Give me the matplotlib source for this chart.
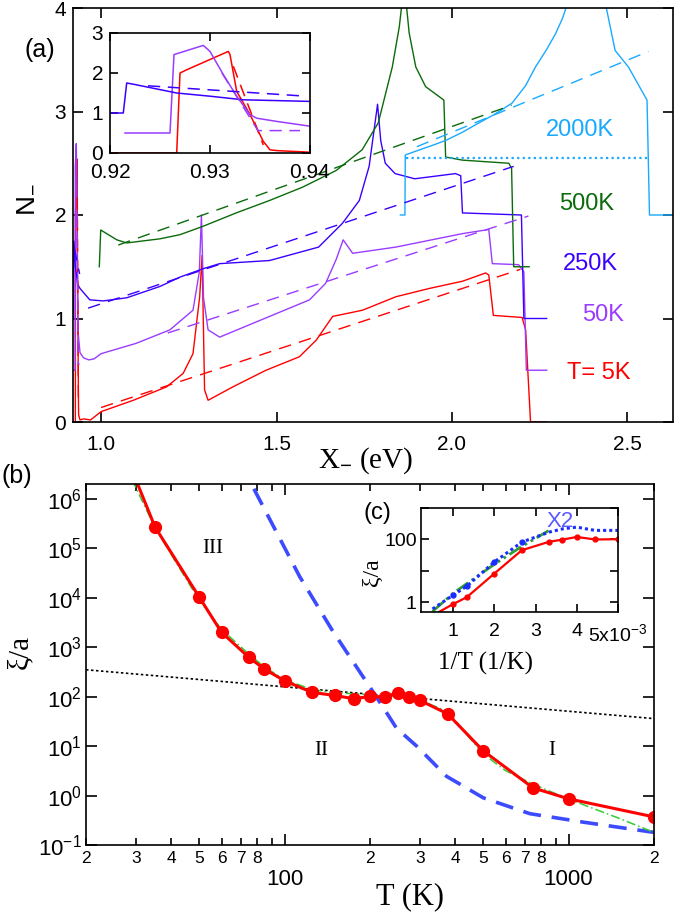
import matplotlib
matplotlib.use('Agg')
import matplotlib.pyplot as plt
import matplotlib.ticker as mticker
import numpy as np

plt.rcParams['font.family'] = ['Liberation Sans', 'DejaVu Sans']
plt.rcParams['mathtext.fontset'] = 'custom'
plt.rcParams['mathtext.rm'] = 'Liberation Sans'
plt.rcParams['mathtext.it'] = 'Liberation Sans:italic'
plt.rcParams['axes.linewidth'] = 1.2
SERIF = ['Liberation Serif', 'DejaVu Serif']

# ---------------- panel (a) data : N_ vs X_ ----------------
x5 = [0.92, 0.92667, 0.927, 0.92767, 0.93183, 0.932, 0.93267, 0.934, 0.93533, 0.936,
      0.93667, 0.94, 0.95, 0.97, 1.0, 1.092, 1.187, 1.234, 1.262, 1.281, 1.288, 1.295,
      1.305, 1.376, 1.47, 1.565, 1.613, 1.66, 1.745, 1.84, 1.935, 2.03, 2.096, 2.105,
      2.118, 2.2, 2.21, 2.224, 2.27]
n5 = [0, 0, 2.0, 2.08, 2.54, 2.46, 1.54, 0.96, 0.29, 0.08,
      0.06, 0.02, 0.03, 0.02, 0.1, 0.21, 0.34, 0.47, 0.66, 1.21, 1.61, 0.31,
      0.21, 0.34, 0.5, 0.63, 0.79, 1.02, 1.08, 1.21, 1.29, 1.36, 1.44, 1.42,
      1.03, 1.01, 0.89, 0.0, 0.0]

x50 = [0.9215, 0.926, 0.9264, 0.92933, 0.93, 0.93133, 0.93267, 0.934, 0.93467, 0.93667,
       0.94, 0.95, 0.965, 0.98, 1.0, 1.1, 1.196, 1.262, 1.28, 1.286, 1.292, 1.305,
       1.338, 1.48, 1.594, 1.64, 1.67, 1.69, 1.717, 1.84, 2.03, 2.105, 2.115, 2.19,
       2.205, 2.212, 2.27]
n50 = [0.5, 0.5, 2.46, 2.69, 2.54, 1.96, 1.42, 0.96, 0.87, 0.79,
       0.67, 0.62, 0.60, 0.61, 0.66, 0.76, 0.89, 1.08, 1.45, 2.0, 1.2, 0.89,
       0.82, 1.02, 1.18, 1.34, 1.57, 1.76, 1.63, 1.69, 1.82, 1.86, 1.53, 1.52,
       1.45, 0.5, 0.5]

x250 = [0.92, 0.92133, 0.92167, 0.92233, 0.92667, 0.93, 0.93333, 0.93667, 0.94, 0.968,
        1.006, 1.073, 1.168, 1.225, 1.29, 1.338, 1.48, 1.62, 1.688, 1.736, 1.764, 1.788,
        1.797, 1.81, 1.838, 1.894, 2.01, 2.025, 2.03, 2.198, 2.205, 2.27]
n250 = [1.0, 1.0, 1.75, 1.72, 1.5, 1.42, 1.33, 1.31, 1.29, 1.18,
        1.17, 1.2, 1.31, 1.40, 1.48, 1.53, 1.56, 1.69, 1.92, 2.14, 2.47, 3.07,
        2.72, 2.5, 2.40, 2.35, 2.40, 2.38, 2.02, 2.0, 1.0, 1.0]

x500 = [0.995, 0.999, 1.045, 1.073, 1.168, 1.225, 1.29, 1.385, 1.48, 1.575, 1.67, 1.744,
        1.79, 1.83, 1.85, 1.856, 1.8635, 1.871, 1.878, 1.897, 1.925, 1.977, 1.982, 2.03,
        2.162, 2.17, 2.176, 2.22]
n500 = [1.5, 1.855, 1.76, 1.73, 1.77, 1.81, 1.89, 2.02, 2.14, 2.27, 2.43, 2.63,
        2.89, 3.43, 3.82, 4.0, 4.6, 4.0, 3.76, 3.43, 3.24, 3.11, 2.56, 2.53,
        2.5, 2.45, 1.5, 1.5]

x2000 = [1.853, 1.866, 1.867, 1.9, 1.95, 1.982, 2.03, 2.077, 2.12, 2.171, 2.21, 2.238,
         2.27, 2.295, 2.315, 2.325, 2.36, 2.38, 2.40, 2.44, 2.465, 2.503, 2.541, 2.556,
         2.563, 2.64]
n2000 = [2.0, 2.0, 2.58, 2.62, 2.68, 2.72, 2.8, 2.89, 2.97, 3.08, 3.25, 3.43,
         3.6, 3.75, 3.9, 4.0, 4.8, 5.3, 4.8, 4.0, 3.59, 3.43, 3.2, 3.11,
         2.0, 2.0]

# straight-line fits (dashed) and the flat 2000K level (dotted)
fit5_x, fit5_n = [1.0, 2.195], [0.14, 1.475]
fit50_x, fit50_n = [1.19, 2.218], [0.86, 1.99]
fit250_x, fit250_n = [0.963, 2.176], [1.1, 2.47]
fit500_x, fit500_n = [1.049, 2.17], [1.71, 3.06]
fit2000_x, fit2000_n = [1.90, 2.56], [2.66, 3.58]
flat2000_x, flat2000_n = [1.87, 2.56], [2.55, 2.55]
# fits near the low-energy edge (seen in inset)
edge5_x, edge5_n = [0.93233, 0.93533], [2.17, 0.2]
edge50_x, edge50_n = [0.9312, 0.9348, 0.939], [2.0, 0.56, 0.56]
edge250_x, edge250_n = [0.9238, 0.939], [1.68, 1.43]

# ---------------- panel (b) data : xi/a vs T ----------------
T_pts = [30, 35, 50, 60, 75, 85, 100, 125, 150, 175, 200, 225, 250, 275, 300, 375, 500, 750, 1000, 2000]
xi_pts = [2.4e6, 2.7e5, 1.05e4, 2.0e3, 620, 360, 210, 122, 106, 91, 101, 99, 119, 97, 84, 45, 8.1, 1.43, 0.86, 0.37]

T_fit = [29, 35, 50, 60, 75, 85, 100, 125, 150, 200, 250, 300, 375, 500, 600, 750, 1000, 1500, 2000]
xi_fit = [2.5e6, 2.6e5, 9e3, 2.3e3, 720, 400, 220, 140, 120, 110, 100, 85, 50, 7, 3.2, 1.7, 0.85, 0.35, 0.18]

T_blue = [78, 113, 148, 200, 225, 248, 292, 372, 501, 731, 1127, 2000]
xi_blue = [1.6e6, 2.7e4, 2.1e3, 155, 55, 23, 10, 2.45, 0.9, 0.43, 0.29, 0.18]

T_dot = [20, 2000]
xi_dot = [350, 36]

# ---------------- panel (c) data : xi/a vs 1/T ----------------
invT_x2 = [0.5e-3, 1.0e-3, 1.33e-3, 2.0e-3, 2.67e-3, 3.33e-3, 3.67e-3, 4.0e-3, 4.44e-3, 5.0e-3]
xi_x2 = [0.6, 1.66, 3.2, 19, 82, 170, 218, 245, 193, 193]
invT_gr = [0.5e-3, 1.0e-3, 2.0e-3, 2.67e-3, 3.35e-3]
xi_gr = [0.5, 1.9, 16, 60, 200]

RED = '#ff0000'
PURPLE = '#9a3cff'
BLUE = '#3a00ff'
GREEN = '#0b6b0b'
SKY = '#19aaff'

fig = plt.figure(figsize=(6.75, 9.16), dpi=100)


def frect(l, t, r, b):
    return [l / 675, 1 - b / 916, (r - l) / 675, (b - t) / 916]


def ftext(x, y, s, **kw):
    fig.text(x / 675, 1 - y / 916, s, ha='center', va='center', **kw)


# ======== (a) ========
axA = fig.add_axes(frect(73, 8, 673, 422))
lw = 1.0
dash = (0, (9, 6))

series = [(x5, n5, RED), (x50, n50, PURPLE), (x250, n250, BLUE),
          (x500, n500, GREEN), (x2000, n2000, SKY)]
fits = [(fit5_x, fit5_n, RED), (fit50_x, fit50_n, PURPLE), (fit250_x, fit250_n, BLUE),
        (fit500_x, fit500_n, GREEN), (fit2000_x, fit2000_n, SKY),
        (edge5_x, edge5_n, RED), (edge50_x, edge50_n, PURPLE), (edge250_x, edge250_n, BLUE)]

for xs, ns, c in series:
    axA.plot(xs, ns, color=c, lw=lw)
for xs, ns, c in fits:
    axA.plot(xs, ns, color=c, lw=lw, ls=dash)
axA.plot(flat2000_x, flat2000_n, color=SKY, lw=1.6, ls=(0, (1, 1.5)))

axA.set_xlim(0.92, 2.63)
axA.set_ylim(0, 4)
axA.set_xticks([1.0, 1.5, 2.0, 2.5])
axA.set_xticklabels(['1.0', '1.5', '2.0', '2.5'])
axA.set_yticks([0, 1, 2, 3, 4])
axA.tick_params(direction='in', top=True, right=True, length=7, width=1.2, labelsize=15)
axA.tick_params(axis='x', pad=9)
axA.tick_params(axis='y', pad=5)

tlabels = [(2.366, 2.82, '2000K', SKY), (2.384, 2.11, '500K', GREEN),
           (2.394, 1.53, '250K', BLUE), (2.432, 1.03, '50K', PURPLE),
           (2.418, 0.47, 'T= 5K', RED)]
for x, y, s, c in tlabels:
    axA.text(x, y, s, color=c, fontsize=17, ha='center', va='center')

# inset of (a)
axI = fig.add_axes(frect(110, 33, 310, 153))
axI.set_facecolor('white')
for xs, ns, c in series[:3]:
    axI.plot(xs, ns, color=c, lw=1.1)
for xs, ns, c in fits[5:]:
    axI.plot(xs, ns, color=c, lw=1.1, ls=(0, (8, 5)))
axI.set_xlim(0.92, 0.94)
axI.set_ylim(0, 3)
axI.set_xticks([0.92, 0.93, 0.94])
axI.set_xticklabels(['0.92', '0.93', '0.94'])
axI.set_yticks([0, 1, 2, 3])
axI.tick_params(direction='in', top=True, right=True, length=6, width=1.2, labelsize=15)
axI.tick_params(axis='x', pad=7)
axI.tick_params(axis='y', pad=5)

ftext(40, 50, '(a)', fontsize=18)
ftext(25, 200, r'N$_{-}$', fontsize=20, rotation=90)
ftext(366, 461, r'X$_{-}$ (eV)', fontsize=21, family=SERIF)

# ======== (b) ========
axB = fig.add_axes(frect(86, 484, 654, 845))
axB.set_xscale('log')
axB.set_yscale('log')
axB.plot(T_dot, xi_dot, color='k', lw=1.2, ls=(0, (1.5, 1.5)))
axB.plot(T_blue, xi_blue, color='#3d4bff', lw=2.6, ls=(0, (5, 3)))
axB.plot(T_fit, xi_fit, color='#33cc33', lw=1.1, ls=(0, (6, 2, 1, 2)))
axB.plot(T_pts, xi_pts, color=RED, lw=2.2, marker='o', ms=8.5, markevery=slice(1, None))
axB.set_xlim(20, 2000)
axB.set_ylim(0.1, 2e6)

axB.xaxis.set_major_locator(mticker.FixedLocator([100, 1000]))
axB.xaxis.set_major_formatter(mticker.FixedFormatter(['100', '1000']))
minor_T = [20, 30, 40, 50, 60, 70, 80, 90, 200, 300, 400, 500, 600, 700, 800, 900, 2000]
minor_lab = ['2', '3', '4', '5', '6', '7', '8', '', '2', '3', '4', '5', '6', '7', '8', '', '2']
axB.xaxis.set_minor_locator(mticker.FixedLocator(minor_T))
axB.xaxis.set_minor_formatter(mticker.FixedFormatter(minor_lab))
yt = [0.1, 1, 10, 100, 1e3, 1e4, 1e5, 1e6]
axB.yaxis.set_major_locator(mticker.FixedLocator(yt))
axB.yaxis.set_major_formatter(mticker.FixedFormatter(
    [r'$\mathdefault{10^{%d}}$' % e for e in range(-1, 7)]))
axB.yaxis.set_minor_locator(mticker.NullLocator())
axB.tick_params(which='both', direction='in', top=True, right=True, width=1.2)
axB.tick_params(which='major', length=8)
axB.tick_params(which='minor', length=5)
axB.tick_params(axis='x', which='major', labelsize=16, pad=17)
axB.tick_params(axis='x', which='minor', labelsize=12.5, pad=4)
axB.tick_params(axis='y', which='major', labelsize=16, pad=3)

axB.text(56, 9.8e4, 'III', fontsize=15, family=SERIF, ha='center', va='center')
axB.text(135, 8.1, 'II', fontsize=15, family=SERIF, ha='center', va='center')
axB.text(873, 8.0, 'I', fontsize=15, family=SERIF, ha='center', va='center')

ftext(17, 476, '(b)', fontsize=18)
ftext(20, 652, r'ξ/a', fontsize=21, rotation=90, family=SERIF)
ftext(410, 897, 'T (K)', fontsize=22, family=SERIF)

# ======== (c) inset ========
axC = fig.add_axes(frect(421, 508, 618, 612))
axC.set_facecolor('white')
axC.set_yscale('log')
invT_pts = [1.0 / t for t in T_pts]
axC.plot(invT_gr, xi_gr, color='#2e9e2e', lw=2.0, ls=(0, (5, 1.5, 1, 1.5, 1, 1.5)))
axC.plot(invT_x2, xi_x2, color='#1a2cff', lw=2.2, ls=(0, (1, 1)), marker='o', ms=3.5,
         markevery=[1, 2, 3, 4])
axC.plot(invT_pts, xi_pts, color=RED, lw=1.6, marker='o', ms=3.5)
axC.set_xlim(0.22e-3, 5.0e-3)
axC.set_ylim(0.48, 1000)
axC.set_xticks([1e-3, 2e-3, 3e-3, 4e-3, 5e-3])
axC.set_xticklabels(['1', '2', '3', '4', r'5x10$^{\mathdefault{-3}}$'])
axC.yaxis.set_major_locator(mticker.FixedLocator([1, 10, 100, 1000]))
axC.yaxis.set_major_formatter(mticker.FixedFormatter(['1', '', '100', '']))
axC.yaxis.set_minor_locator(mticker.NullLocator())
axC.tick_params(direction='in', top=True, right=True, length=6, width=1.2, labelsize=14)
axC.tick_params(axis='x', pad=8)
axC.tick_params(axis='y', pad=3)
axC.text(3.6e-3, 360, 'X2', color='#5a5aff', fontsize=16, ha='center', va='center')

ftext(377, 513, '(c)', fontsize=17)
ftext(372, 572, r'ξ/a', fontsize=17, rotation=90, family=SERIF)
ftext(485, 663, '1/T (1/K)', fontsize=18, family=SERIF)

fig.savefig('out.png', dpi=100)
